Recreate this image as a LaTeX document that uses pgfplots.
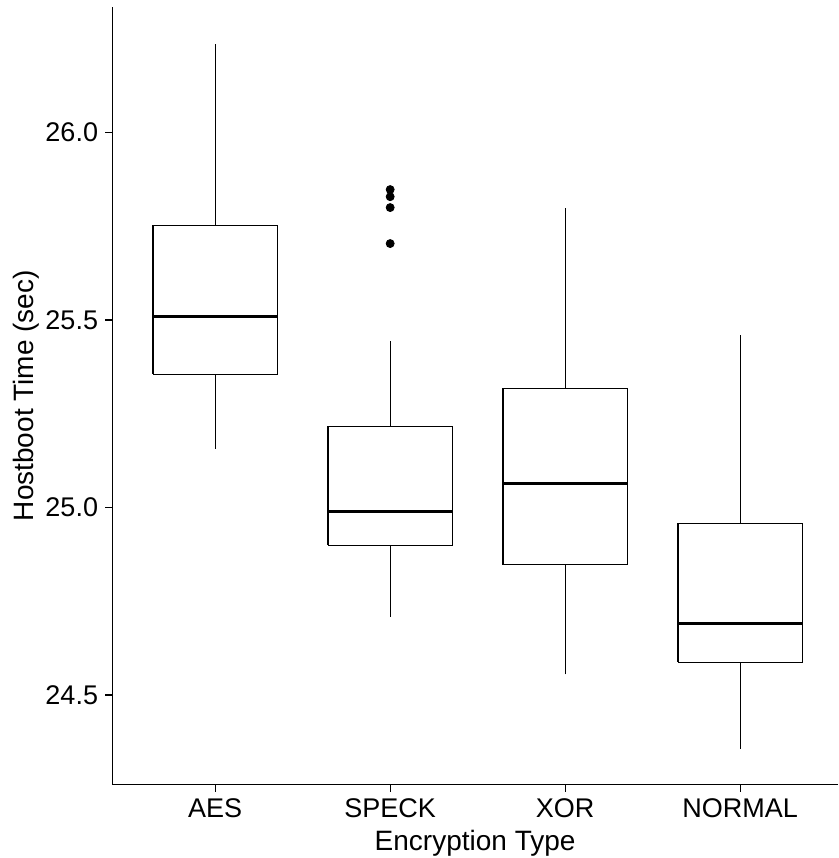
\documentclass[border={3.5pt 0pt 0pt 3pt}]{standalone}
\usepackage{pgfplots}
\pgfplotsset{compat=1.18}
\usepackage{fontspec}
\setmainfont{Liberation Sans}

% box statistics: pos, lower whisker, q1, median, q3, upper whisker
% AES    1  25.157 25.355 25.509 25.752 26.237
% SPECK  2  24.709 24.899 24.989 25.216 25.445
% XOR    3  24.555 24.848 25.064 25.317 25.800
% NORMAL 4  24.357 24.587 24.691 24.957 25.461

\pgfplotsset{
  boxline/.style={black, solid, line width=0.6pt, mark=none},
  medline/.style={black, solid, line width=1.2pt, mark=none},
}

\begin{document}
\begin{tikzpicture}
\begin{axis}[
    scale only axis,
    width=363pt,
    height=389pt,
    xmin=0.411, xmax=4.56,
    ymin=24.261, ymax=26.336,
    axis x line*=bottom,
    axis y line*=left,
    axis line style={black, line width=0.6pt},
    xtick={1,2,3,4},
    xticklabels={AES,SPECK,XOR,NORMAL},
    ytick={24.5,25.0,25.5,26.0},
    yticklabel style={/pgf/number format/.cd, fixed, fixed zerofill, precision=1},
    /pgf/number format/assume math mode=true,
    tick style={black, line width=0.6pt},
    tick align=outside,
    major tick length=3.5pt,
    ticklabel style={font=\fontsize{13.5}{16}\selectfont},
    xlabel={Encryption Type},
    ylabel={Hostboot Time (sec)},
    label style={font=\fontsize{14}{17}\selectfont},
    xlabel style={inner ysep=1pt, yshift=-1.5pt},
    ylabel style={yshift=-4pt},
]
% whiskers
\addplot[boxline] coordinates {(1,25.752) (1,26.237)};
\addplot[boxline] coordinates {(1,25.157) (1,25.355)};
\addplot[boxline] coordinates {(2,25.216) (2,25.445)};
\addplot[boxline] coordinates {(2,24.709) (2,24.899)};
\addplot[boxline] coordinates {(3,25.317) (3,25.800)};
\addplot[boxline] coordinates {(3,24.555) (3,24.848)};
\addplot[boxline] coordinates {(4,24.957) (4,25.461)};
\addplot[boxline] coordinates {(4,24.357) (4,24.587)};
% boxes
\addplot[boxline] coordinates {(0.645,25.355) (1.355,25.355) (1.355,25.752) (0.645,25.752) (0.645,25.355)};
\addplot[boxline] coordinates {(1.645,24.899) (2.355,24.899) (2.355,25.216) (1.645,25.216) (1.645,24.899)};
\addplot[boxline] coordinates {(2.645,24.848) (3.355,24.848) (3.355,25.317) (2.645,25.317) (2.645,24.848)};
\addplot[boxline] coordinates {(3.645,24.587) (4.355,24.587) (4.355,24.957) (3.645,24.957) (3.645,24.587)};
% medians
\addplot[medline] coordinates {(0.645,25.509) (1.355,25.509)};
\addplot[medline] coordinates {(1.645,24.989) (2.355,24.989)};
\addplot[medline] coordinates {(2.645,25.064) (3.355,25.064)};
\addplot[medline] coordinates {(3.645,24.691) (4.355,24.691)};
% outliers (SPECK)
\addplot[black, only marks, mark=*, mark size=2pt, mark options={fill=black}]
    coordinates {(2,25.848) (2,25.829) (2,25.800) (2,25.704)};
\end{axis}
\end{tikzpicture}
\end{document}
